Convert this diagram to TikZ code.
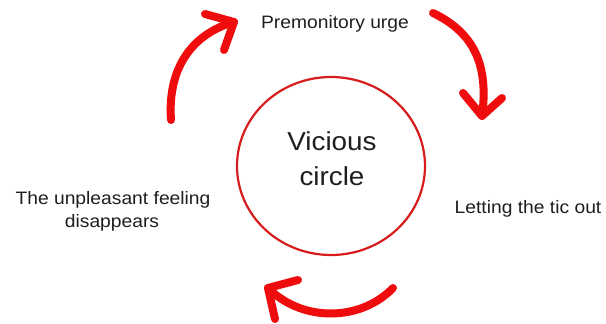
\documentclass[tikz,border=0pt]{standalone}
\usepackage{fontspec}
\setmainfont{Liberation Sans}
\definecolor{arrowred}{RGB}{238,12,12}
\definecolor{ringred}{RGB}{214,28,28}
\definecolor{txt}{RGB}{30,30,30}
\begin{document}
\begin{tikzpicture}[x=1pt,y=-1pt,
  lbl/.style={anchor=base,inner sep=0pt,text=txt,font=\fontsize{18}{23}\selectfont,xscale=1.07},
  big/.style={anchor=base,inner sep=0pt,text=txt,font=\fontsize{26}{35}\selectfont,xscale=1.07},
  cyc/.style={draw=arrowred,line width=8pt,line cap=round,line join=round},
  ring/.style={draw=ringred,line width=2.2pt}]
\useasboundingbox (0,0) rectangle (606,324);
\draw[ring] (331,166) ellipse [x radius=94, y radius=89];
\node[big] (v1) at (332,150) {Vicious};
\node[big] (v2) at (332,185) {circle};
\node[lbl] (pre) at (335,28) {Premonitory urge};
\node[lbl] (let) at (528,213) {Letting the tic out};
\node[lbl] (un1) at (113,204) {The unpleasant feeling};
\node[lbl] (un2) at (112,227) {disappears};
% arrow 1
\coordinate (a1s) at (171,120);
\coordinate (a1t) at (234,22);
\coordinate (a1b1) at (205,14);
\coordinate (a1b2) at (224,50);
\draw[cyc] (a1s) .. controls (167,62) and (198,32) .. (a1t);
\draw[cyc] (a1b1) -- (a1t) -- (a1b2);
% arrow 2
\coordinate (a2s) at (433,13);
\coordinate (a2t) at (482,116);
\coordinate (a2b1) at (463,93);
\coordinate (a2b2) at (502,98);
\draw[cyc] (a2s) .. controls (468,30) and (490,58) .. (a2t);
\draw[cyc] (a2b1) -- (a2t) -- (a2b2);
% arrow 3
\coordinate (a3s) at (393,288);
\coordinate (a3t) at (268,288);
\coordinate (a3b1) at (298,280);
\coordinate (a3b2) at (275,319);
\draw[cyc] (a3s) .. controls (360,322) and (302,322) .. (a3t);
\draw[cyc] (a3b1) -- (a3t) -- (a3b2);
\end{tikzpicture}
\end{document}
